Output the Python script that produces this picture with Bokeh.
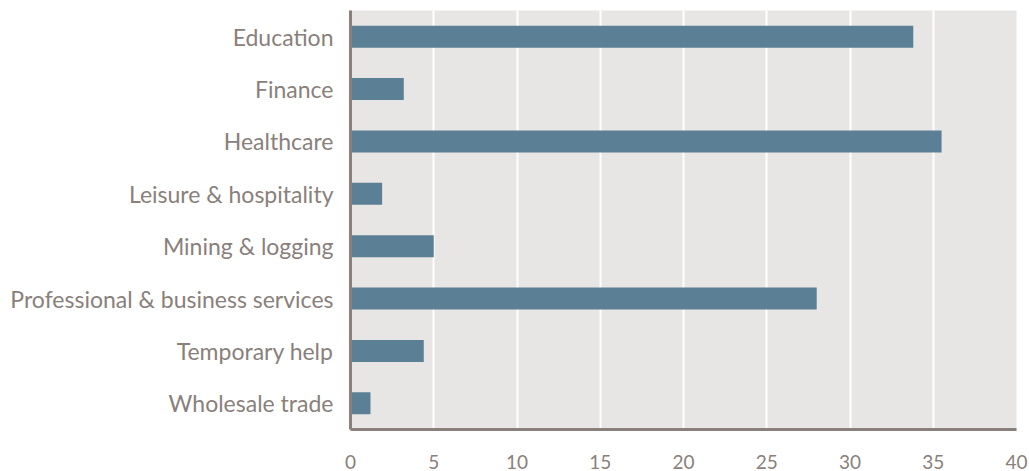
from bokeh.plotting import figure
from bokeh.embed import file_html
from bokeh.resources import INLINE
from bokeh.models import ColumnDataSource, FixedTicker

categories = ["Education", "Finance", "Healthcare", "Leisure & hospitality",
              "Mining & logging", "Professional & business services",
              "Temporary help", "Wholesale trade"]
values = [33.8, 3.2, 35.5, 1.9, 5.0, 28.0, 4.4, 1.2]
x_ticks = [0, 5, 10, 15, 20, 25, 30, 35, 40]

text_color = "#8a807b"
font = "Lato"

source = ColumnDataSource(dict(cat=categories, val=values))

p = figure(width=1029, height=471, y_range=list(reversed(categories)),
           x_range=(0, 40), output_backend="svg", toolbar_location=None,
           min_border_left=350, min_border_right=13, min_border_top=10,
           min_border_bottom=40)

p.hbar(y="cat", right="val", left=0, height=0.42, source=source,
       color="#5b7f95", line_color=None)

p.background_fill_color = "#e8e6e5"
p.border_fill_color = "white"
p.outline_line_color = None

p.xgrid.ticker = FixedTicker(ticks=x_ticks)
p.xgrid.grid_line_color = "white"
p.xgrid.grid_line_width = 2
p.ygrid.grid_line_color = None

p.xaxis.ticker = FixedTicker(ticks=x_ticks)
for ax in (p.xaxis[0], p.yaxis[0]):
    ax.axis_line_color = text_color
    ax.axis_line_width = 3
    ax.major_tick_line_color = None
    ax.minor_tick_line_color = None
    ax.major_label_text_color = text_color
    ax.major_label_text_font = font

p.xaxis.major_label_text_font_size = "19px"
p.xaxis.major_label_standoff = 19
p.yaxis.major_label_text_font_size = "23px"
p.yaxis.major_label_standoff = 11

open("out.html", "w").write(file_html(p, INLINE))
